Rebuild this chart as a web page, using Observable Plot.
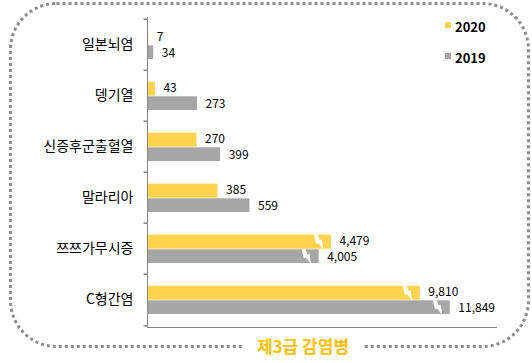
<!DOCTYPE html>
<html>
<head>
<meta charset="utf-8">
<script src="https://cdn.jsdelivr.net/npm/d3@7"></script>
<script src="https://cdn.jsdelivr.net/npm/@observablehq/plot@0.6"></script>
<style>
  html, body { margin: 0; padding: 0; background: #fff; }
  #wrap { position: relative; width: 532px; height: 363px; overflow: hidden; font-family: "Noto Sans CJK KR", "Noto Sans", sans-serif; }
  #border { position: absolute; left: 0; top: 0; }
  #chart { position: absolute; left: 0; top: 0; }
  .legend { position: absolute; left: 445px; font-size: 13px; font-weight: bold; color: #000; line-height: 14px; }
  .legend span.sw { display: inline-block; width: 6px; height: 6px; margin-right: 4px; vertical-align: 4px; }
  #title { position: absolute; left: 243px; top: 334px; width: 120px; text-align: center; background: #fff;
           font-size: 17px; font-weight: bold; color: #FFC000; line-height: 24px; }
</style>
</head>
<body>
<div id="wrap">
  <svg id="border" width="532" height="363">
    <rect x="10.5" y="3.5" width="518" height="343" rx="46" ry="46" fill="none" stroke="#8c8c8c" stroke-width="3" stroke-dasharray="3 3"/>
  </svg>
  <div id="chart"></div>
  <div class="legend" style="top:20px"><span class="sw" style="background:#FFD34E"></span>2020</div>
  <div class="legend" style="top:51px"><span class="sw" style="background:#A6A6A6"></span>2019</div>
  <div id="title">제3급 감염병</div>
</div>
<script>
const categories = ["일본뇌염", "뎅기열", "신증후군출혈열", "말라리아", "쯔쯔가무시증", "C형간염"];
const values2020 = [7, 43, 270, 385, 4479, 9810];
const values2019 = [34, 273, 399, 559, 4005, 11849];
const seriesNames = ["2020", "2019"];
const breakThreshold = 1000;

const colors = {"2020": "#FFD34E", "2019": "#A6A6A6"};
const rows2020 = categories.map((c, i) => ({category: c, year: seriesNames[0], value: values2020[i]}));
const rows2019 = categories.map((c, i) => ({category: c, year: seriesNames[1], value: values2019[i]}));

const W = 532, H = 363, mTop = 17, mBottom = 36, mLeft = 147, mRight = 36;
const bw = (H - mTop - mBottom) / categories.length;

const fmt = d3.format(",");
const tickSym = {draw(ctx) { ctx.moveTo(-4, 0); ctx.lineTo(0, 0); }};
const boltSym = {draw(ctx) {
  ctx.moveTo(-4.5, -7.5);
  ctx.lineTo(-0.5, -7.5);
  ctx.lineTo(1.3, -2.2);
  ctx.lineTo(3.4, -3.2);
  ctx.lineTo(5, 7.5);
  ctx.lineTo(-0.2, 0.6);
  ctx.lineTo(-2.3, 1.6);
  ctx.closePath();
}};

const off2020 = {top: 11.7, bottom: 25.3};
const off2019 = {top: 26.3, bottom: 11};
const dy2020 = -6.5, dy2019 = 7.8;
const labelDy2020 = -7.8, labelDy2019 = 8.2;

const lastCat = [categories[categories.length - 1]];

const chart = Plot.plot({
  width: W, height: H,
  marginTop: mTop, marginBottom: mBottom, marginLeft: mLeft, marginRight: mRight,
  style: {fontFamily: "'Noto Sans CJK KR', 'Noto Sans', sans-serif", fontSize: "12px", color: "#000", background: "transparent"},
  x: {type: "linear", domain: [0, 600, 4000, 4500, 10000, 12000], range: [147, 257, 318.5, 331.5, 423, 452], axis: null},
  y: {domain: categories, padding: 0, label: null},
  marks: [
    Plot.barX(rows2020, {x: "value", y: "category", fill: colors["2020"], insetTop: off2020.top, insetBottom: off2020.bottom}),
    Plot.barX(rows2019, {x: "value", y: "category", fill: colors["2019"], insetTop: off2019.top, insetBottom: off2019.bottom}),
    Plot.dot(rows2020.filter(d => d.value > breakThreshold), {x: "value", y: "category", dx: -13, dy: dy2020, symbol: boltSym, fill: "#fff", stroke: "none"}),
    Plot.dot(rows2019.filter(d => d.value > breakThreshold), {x: "value", y: "category", dx: -13, dy: dy2019, symbol: boltSym, fill: "#fff", stroke: "none"}),
    Plot.text(rows2020, {x: "value", y: "category", text: d => fmt(d.value), dx: 8, dy: labelDy2020, textAnchor: "start", fill: "#000", fontSize: 12}),
    Plot.text(rows2019, {x: "value", y: "category", text: d => fmt(d.value), dx: 8, dy: labelDy2019, textAnchor: "start", fill: "#000", fontSize: 12}),
    Plot.axisY({tickSize: 0, tickPadding: 14, fontSize: 14, label: null, fill: "#000"}),
    Plot.frame({anchor: "left", stroke: "#868686"}),
    Plot.frame({anchor: "bottom", stroke: "#868686"}),
    Plot.dot(categories, {y: d => d, frameAnchor: "left", dy: -bw / 2, symbol: tickSym, fill: "none", stroke: "#868686"}),
    Plot.dot(lastCat, {y: d => d, frameAnchor: "left", dy: bw / 2, symbol: tickSym, fill: "none", stroke: "#868686"})
  ]
});
document.getElementById("chart").appendChild(chart);
</script>
</body>
</html>
